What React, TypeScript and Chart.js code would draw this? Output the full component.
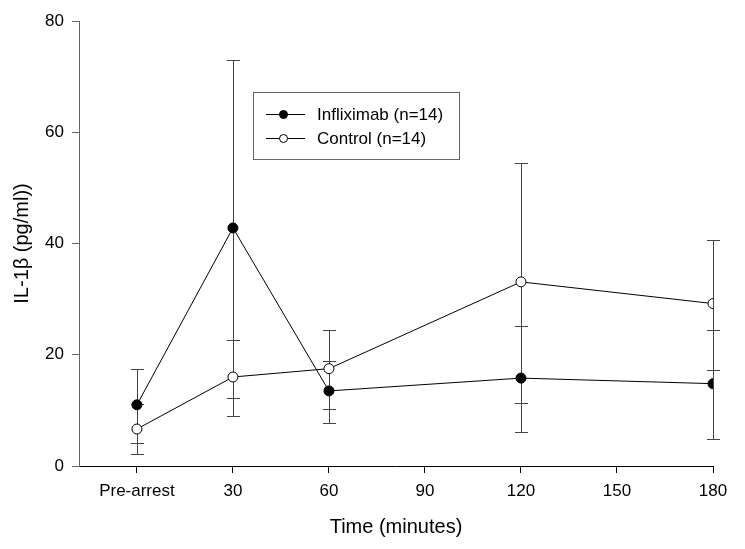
import { useEffect, useRef } from "react";
import { Chart, registerables } from "chart.js";

Chart.register(...registerables);

const timePoints = [0, 30, 60, 120, 180];
const tickValues = [0, 30, 60, 90, 120, 150, 180];
const tickLabels = ["Pre-arrest", "30", "60", "90", "120", "150", "180"];

const infliximabLabel = "Infliximab (n=14)";
const infliximabMean = [11.0, 42.8, 13.5, 15.8, 14.8];
const infliximabUpper = [17.4, 72.9, 18.9, 25.2, 24.5];
const infliximabLower = [4.2, 12.2, 7.8, 6.2, 4.8];

const controlLabel = "Control (n=14)";
const controlMean = [6.65, 16.0, 17.5, 33.1, 29.2];
const controlUpper = [11.2, 22.7, 24.5, 54.5, 40.6];
const controlLower = [2.1, 9.0, 10.3, 11.4, 17.2];

const FONT = "'Liberation Sans', Arial, sans-serif";

const errorBarPlugin = {
  id: "errorBars",
  beforeDatasetsDraw(chart: any) {
    const ctx = chart.ctx;
    const xs = chart.scales.x;
    const ys = chart.scales.y;
    ctx.save();
    ctx.strokeStyle = "#444";
    ctx.lineWidth = 1;
    chart.data.datasets.forEach((ds: any) => {
      const up: number[] = ds.errUpper || [];
      const lo: number[] = ds.errLower || [];
      ds.data.forEach((p: any, i: number) => {
        const x = Math.round(xs.getPixelForValue(p.x)) + 0.5;
        const yU = Math.round(ys.getPixelForValue(up[i])) + 0.5;
        const yL = Math.round(ys.getPixelForValue(lo[i])) + 0.5;
        const hw = 6.5;
        ctx.beginPath();
        ctx.moveTo(x, yU);
        ctx.lineTo(x, yL);
        ctx.moveTo(x - hw, yU);
        ctx.lineTo(x + hw, yU);
        ctx.moveTo(x - hw, yL);
        ctx.lineTo(x + hw, yL);
        ctx.stroke();
      });
    });
    ctx.restore();
  },
};

const boxLegendPlugin = {
  id: "boxLegend",
  afterDraw(chart: any) {
    const ctx = chart.ctx;
    const area = chart.chartArea;
    const bx = area.left + 174.5;
    const by = area.top + 71.5;
    ctx.save();
    ctx.strokeStyle = "#666";
    ctx.lineWidth = 1;
    ctx.strokeRect(bx, by, 206, 67);
    chart.data.datasets.forEach((ds: any, i: number) => {
      const cy = by + 22 + i * 24;
      ctx.strokeStyle = "#000";
      ctx.beginPath();
      ctx.moveTo(bx + 12.5, cy);
      ctx.lineTo(bx + 51.5, cy);
      ctx.stroke();
      ctx.beginPath();
      ctx.arc(bx + 30, cy, 4, 0, Math.PI * 2);
      ctx.fillStyle = ds.pointBackgroundColor;
      ctx.fill();
      ctx.stroke();
      ctx.fillStyle = "#000";
      ctx.font = `17px ${FONT}`;
      ctx.textBaseline = "middle";
      ctx.textAlign = "left";
      ctx.fillText(ds.label, bx + 63.5, cy + 1);
    });
    ctx.restore();
  },
};

export default function App() {
  const ref = useRef<HTMLCanvasElement>(null);

  useEffect(() => {
    if (!ref.current) return;
    const chart = new Chart(ref.current, {
      type: "line",
      data: {
        datasets: [
          {
            label: infliximabLabel,
            data: timePoints.map((t, i) => ({ x: t, y: infliximabMean[i] })),
            errUpper: infliximabUpper,
            errLower: infliximabLower,
            borderColor: "#000",
            borderWidth: 1,
            pointRadius: 5,
            pointBorderWidth: 1,
            pointBorderColor: "#000",
            pointBackgroundColor: "#000",
            tension: 0,
          } as any,
          {
            label: controlLabel,
            data: timePoints.map((t, i) => ({ x: t, y: controlMean[i] })),
            errUpper: controlUpper,
            errLower: controlLower,
            borderColor: "#000",
            borderWidth: 1,
            pointRadius: 5,
            pointBorderWidth: 1,
            pointBorderColor: "#000",
            pointBackgroundColor: "#fff",
            tension: 0,
          } as any,
        ],
      },
      options: {
        animation: false,
        responsive: false,
        layout: { padding: { top: 21, right: 32, left: 0, bottom: 0 } },
        plugins: {
          legend: { display: false },
          tooltip: { enabled: false },
        },
        scales: {
          x: {
            type: "linear",
            min: -18.1,
            max: 180,
            afterBuildTicks: (s: any) => {
              s.ticks = tickValues.map((v) => ({ value: v }));
            },
            afterFit: (s: any) => {
              s.height = 83;
            },
            ticks: {
              autoSkip: false,
              maxRotation: 0,
              color: "#000",
              font: { family: FONT, size: 17 },
              padding: 8,
              callback: (v: any) => tickLabels[tickValues.indexOf(Number(v))] ?? "",
            },
            grid: {
              drawOnChartArea: false,
              drawTicks: true,
              tickLength: 7,
              color: "#000",
            },
            border: { color: "#000", width: 1 },
            title: {
              display: true,
              text: "Time (minutes)",
              color: "#000",
              font: { family: FONT, size: 20 },
              padding: { top: 4, bottom: 10 },
            },
          },
          y: {
            min: 0,
            max: 80,
            afterFit: (s: any) => {
              s.width = 79;
            },
            ticks: {
              stepSize: 20,
              color: "#000",
              font: { family: FONT, size: 17 },
              padding: 8,
            },
            grid: {
              drawOnChartArea: false,
              drawTicks: true,
              tickLength: 7,
              color: "#666",
            },
            border: { color: "#666", width: 1 },
            title: {
              display: true,
              text: "IL-1β (pg/ml))",
              color: "#000",
              font: { family: FONT, size: 20 },
              padding: { top: 10, bottom: 0 },
            },
          },
        },
      },
      plugins: [errorBarPlugin, boxLegendPlugin],
    });
    return () => chart.destroy();
  }, []);

  return (
    <div style={{ position: "absolute", left: 0, top: 0, width: 745, height: 549, background: "#fff" }}>
      <canvas ref={ref} width={745} height={549} />
    </div>
  );
}
